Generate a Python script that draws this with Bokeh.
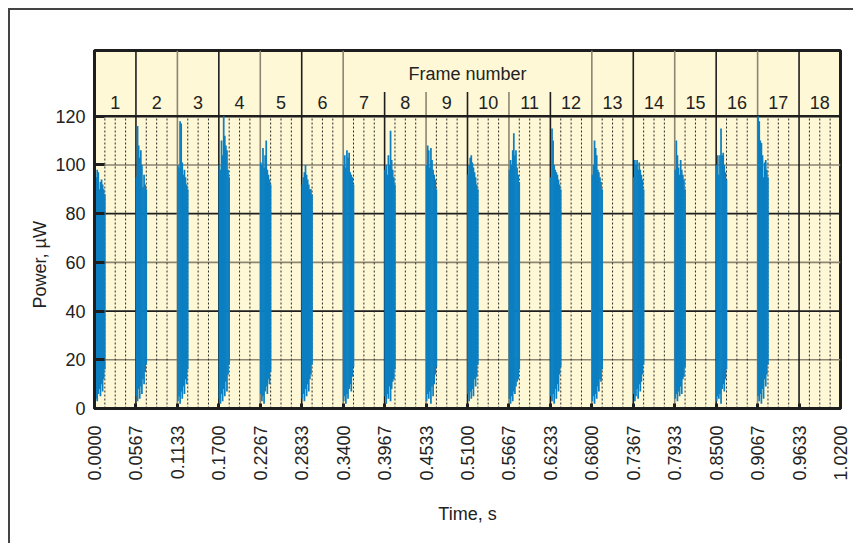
import math
from bokeh.plotting import figure
from bokeh.models import Range1d, FixedTicker, PrintfTickFormatter, Title
from bokeh.embed import file_html
from bokeh.resources import INLINE

# ---------------- data ----------------
frame_numbers = list(range(1, 19))
x_tick_labels = ["0.0000", "0.0567", "0.1133", "0.1700", "0.2267", "0.2833",
                 "0.3400", "0.3967", "0.4533", "0.5100", "0.5667", "0.6233",
                 "0.6800", "0.7367", "0.7933", "0.8500", "0.9067", "0.9633",
                 "1.0200"]
y_ticks = [0, 20, 40, 60, 80, 100, 120]

# burst envelopes (upper / lower value of each ~1.5 ms column), frames 1..17
burst_tops = [
    [92, 95, 98, 97, 90, 93, 94, 92, 90, 88],
    [95, 116, 108, 103, 106, 100, 91, 96, 92, 90],
    [100, 99, 118, 117, 101, 96, 98, 95, 92, 90],
    [100, 98, 110, 104, 120, 112, 108, 106, 98, 95],
    [101, 100, 107, 99, 104, 110, 98, 96, 94, 92],
    [92, 95, 97, 100, 96, 94, 92, 90, 90, 88],
    [100, 104, 99, 106, 103, 105, 97, 96, 95, 92],
    [98, 100, 96, 104, 100, 114, 102, 98, 95, 92],
    [100, 108, 106, 99, 107, 102, 98, 96, 94, 90],
    [96, 100, 103, 104, 101, 99, 97, 95, 92, 90],
    [98, 102, 100, 106, 113, 104, 106, 99, 96, 93],
    [95, 115, 110, 100, 98, 97, 96, 94, 92, 90],
    [96, 100, 110, 107, 104, 98, 97, 95, 93, 90],
    [95, 102, 100, 102, 98, 101, 98, 96, 94, 90],
    [98, 110, 104, 99, 96, 102, 98, 96, 94, 90],
    [100, 104, 96, 104, 115, 104, 105, 100, 97, 94],
    [120, 118, 110, 109, 104, 95, 101, 102, 98, 95],
]
burst_bottoms = [
    [2, 4, 3, 6, 8, 5, 10, 7, 12, 16],
    [5, 3, 8, 4, 9, 6, 12, 10, 15, 18],
    [3, 5, 2, 7, 4, 9, 6, 12, 10, 16],
    [4, 2, 6, 3, 8, 5, 11, 7, 14, 18],
    [6, 3, 5, 2, 7, 9, 6, 12, 10, 15],
    [4, 6, 3, 8, 5, 10, 7, 12, 14, 18],
    [3, 5, 2, 6, 4, 8, 10, 7, 13, 17],
    [5, 2, 6, 4, 9, 3, 8, 11, 12, 16],
    [3, 6, 4, 7, 2, 9, 5, 10, 14, 17],
    [6, 3, 7, 4, 8, 5, 12, 9, 13, 18],
    [4, 2, 5, 3, 7, 6, 9, 11, 12, 16],
    [5, 3, 6, 2, 8, 4, 10, 7, 14, 17],
    [3, 5, 2, 6, 4, 9, 7, 12, 11, 16],
    [6, 3, 5, 8, 4, 10, 7, 11, 14, 18],
    [4, 6, 3, 7, 5, 9, 6, 12, 13, 17],
    [3, 5, 4, 6, 2, 8, 10, 7, 12, 16],
    [5, 3, 6, 2, 8, 4, 12, 9, 14, 18],
]

total_time = 1.02
n_frames = len(frame_numbers)
frame_dur = total_time / n_frames
slots_per_frame = 4
y_main_top = 120
y_head_top = 147
header_mid = 125.5
title_y = 137.5
short_line_top = 130

BLACK = "#1e1e1e"
GREY = "#8c8572"
BG = "#fef8d6"
TXT = "#222222"
FONT = "Liberation Sans"

p = figure(width=845, height=535, output_backend="svg", toolbar_location=None,
           x_range=Range1d(0, total_time), y_range=Range1d(0, y_head_top),
           min_border_left=84, min_border_right=15, min_border_top=40,
           min_border_bottom=137)
p.styles = {"border-left": "2px solid #444444", "border-top": "2px solid #444444",
            "margin-left": "8px", "margin-top": "8px"}
p.background_fill_color = BG
p.border_fill_color = "white"
p.xgrid.visible = False
p.ygrid.visible = False
p.outline_line_color = BLACK
p.outline_line_width = 3

# horizontal grid lines (alternating colours)
hy = y_ticks[1:-1]
hcol = [GREY if (v // 20) % 2 == 1 else BLACK for v in hy]
p.segment(x0=[0] * len(hy), x1=[total_time] * len(hy), y0=hy, y1=hy,
          line_color=hcol, line_width=1.6)

# dotted slot lines
dx = []
for f in range(n_frames):
    for s in range(1, slots_per_frame):
        dx.append(f * frame_dur + s * frame_dur / slots_per_frame)
p.segment(x0=dx, x1=dx, y0=[0] * len(dx), y1=[y_main_top] * len(dx),
          line_color="#2a2a2a", line_width=1, line_dash="2 2")

# frame boundary lines (short ones under the "Frame number" title)
bx, btop, bcol = [], [], []
for k in range(1, n_frames):
    bx.append(k * frame_dur)
    btop.append(short_line_top if 7 <= k <= 11 else y_head_top)
    bcol.append(BLACK if k % 2 == 1 else GREY)
p.segment(x0=bx, x1=bx, y0=[0] * len(bx), y1=btop, line_color=bcol,
          line_width=1.6)

# header separator at 120
p.segment(x0=[0], x1=[total_time], y0=[y_main_top], y1=[y_main_top],
          line_color=BLACK, line_width=2.5)

# bursts
col_w = 0.00148
bxs, bt, bb = [], [], []
for f, (tops, bots) in enumerate(zip(burst_tops, burst_bottoms)):
    for j, (t, b) in enumerate(zip(tops, bots)):
        bxs.append(f * frame_dur + (j + 0.5) * col_w)
        bt.append(t)
        bb.append(b)
p.vbar(x=bxs, width=col_w * 1.6, top=bt, bottom=bb, fill_color="#0b7fc1",
       line_color=None)

# header texts
fx = [(n - 0.5) * frame_dur for n in frame_numbers]
p.text(x=fx, y=[header_mid] * len(fx), text=[str(n) for n in frame_numbers],
       text_align="center", text_baseline="middle", text_font_size="18px",
       text_color=TXT, text_font={"value": FONT})
p.text(x=[9 * frame_dur], y=[title_y], text=["Frame number"],
       text_align="center", text_baseline="middle", text_font_size="18px",
       text_color=TXT, text_font={"value": FONT})

# axes
xa = p.xaxis[0]
xa.ticker = FixedTicker(ticks=[float(s) for s in x_tick_labels])
xa.formatter = PrintfTickFormatter(format="%.4f")
xa.major_label_orientation = math.pi / 2
xa.major_label_standoff = 17
xa.major_tick_in = 5
xa.major_tick_out = 0
xa.minor_tick_line_color = None
xa.major_tick_line_width = 3
xa.axis_line_width = 3
xa.axis_line_color = BLACK
xa.major_tick_line_color = BLACK
xa.axis_label = "Time, s"
xa.axis_label_standoff = 20

ya = p.yaxis[0]
ya.ticker = FixedTicker(ticks=y_ticks)
ya.major_label_standoff = 9
ya.major_tick_in = 10
ya.major_tick_out = 0
ya.minor_tick_line_color = None
ya.major_tick_line_width = 3
ya.axis_line_width = 3
ya.axis_line_color = BLACK
ya.major_tick_line_color = BLACK

for ax in (xa, ya):
    ax.major_label_text_font = FONT
    ax.major_label_text_font_size = "18px"
    ax.major_label_text_color = TXT
    ax.axis_label_text_font = FONT
    ax.axis_label_text_font_size = "18px"
    ax.axis_label_text_font_style = "normal"
    ax.axis_label_text_color = TXT

# y-axis title, placed along the 0..120 part of the frame
p.add_layout(Title(text="Power, µW", align="left", offset=100, standoff=6,
                   text_font=FONT, text_font_size="18px",
                   text_font_style="normal", text_color=TXT), "left")

open("out.html", "w").write(file_html(p, INLINE))
